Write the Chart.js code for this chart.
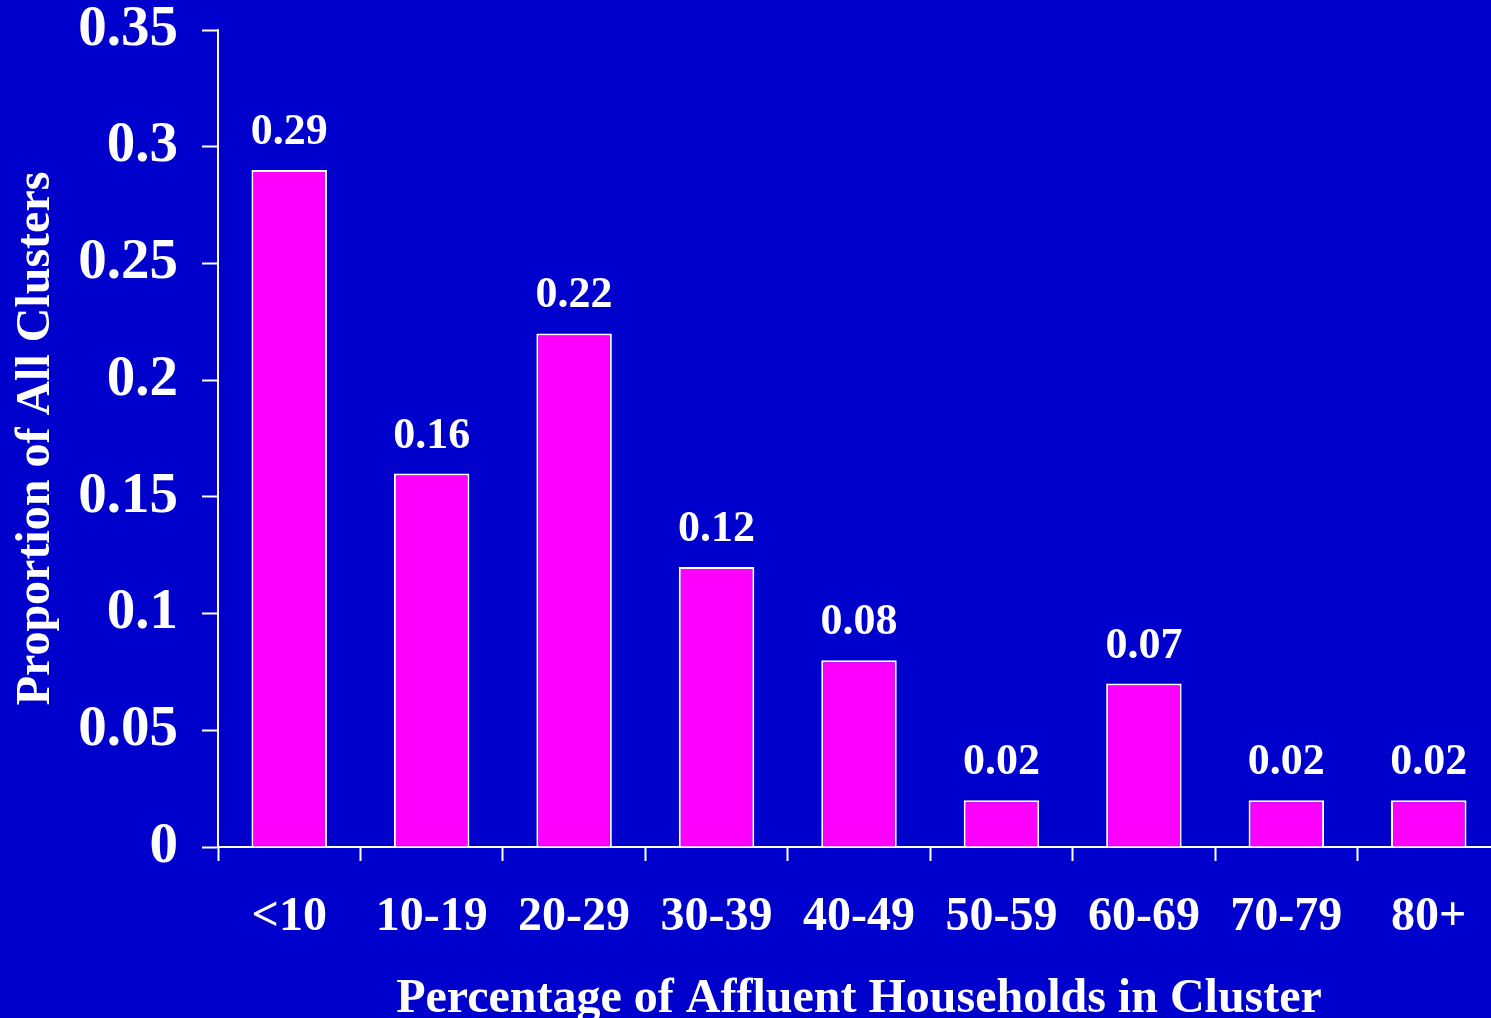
<!DOCTYPE html>
<html>
<head>
<meta charset="utf-8">
<script src="https://cdn.jsdelivr.net/npm/chart.js@4/dist/chart.umd.min.js"></script>
<style>
  html, body { margin: 0; padding: 0; background: #0000CC; overflow: hidden; }
  #wrap { width: 1500px; height: 1018px; position: relative; }
</style>
</head>
<body>
<div id="wrap"><canvas id="bar-chart"></canvas></div>
<script>
// share of clusters by percentage of affluent households
var categories = ["<10", "10-19", "20-29", "30-39", "40-49", "50-59", "60-69", "70-79", "80+"];
var proportions = [0.29, 0.16, 0.22, 0.12, 0.08, 0.02, 0.07, 0.02, 0.02];
var yTickLabels = ["0", "0.05", "0.1", "0.15", "0.2", "0.25", "0.3", "0.35"];

var serif = '"Liberation Serif", "Times New Roman", serif';

// writes each bar's value just above it
var valueLabels = {
  id: 'valueLabels',
  afterDatasetsDraw: function(chart) {
    var ctx = chart.ctx;
    var meta = chart.getDatasetMeta(0);
    ctx.save();
    ctx.fillStyle = '#ffffff';
    ctx.font = 'bold 44px ' + serif;
    ctx.textAlign = 'center';
    ctx.textBaseline = 'alphabetic';
    meta.data.forEach(function(bar, i) {
      ctx.fillText(proportions[i].toFixed(2), bar.x, bar.y - 26);
    });
    ctx.restore();
  }
};

new Chart(document.getElementById("bar-chart"), {
  type: 'bar',
  data: {
    labels: categories,
    datasets: [{
      data: proportions,
      backgroundColor: '#FF00FF',
      borderColor: '#ffffff',
      borderWidth: 2,
      borderSkipped: 'bottom',
      categoryPercentage: 1,
      barPercentage: 0.53
    }]
  },
  options: {
    responsive: true,
    maintainAspectRatio: false,
    animation: false,
    layout: { padding: { top: 30, right: 0, left: 0, bottom: 0 } },
    plugins: {
      legend: { display: false },
      tooltip: { enabled: false }
    },
    scales: {
      x: {
        grid: {
          offset: true,
          drawOnChartArea: false,
          drawTicks: true,
          tickLength: 14,
          tickWidth: 2,
          tickColor: '#ffffff',
          color: '#ffffff'
        },
        border: { display: true, color: '#ffffff', width: 2 },
        ticks: {
          color: '#ffffff',
          font: { family: serif, size: 48, weight: 'bold' },
          padding: 28,
          maxRotation: 0,
          autoSkip: false
        },
        title: {
          display: true,
          text: 'Percentage of Affluent Households in Cluster',
          color: '#ffffff',
          font: { family: serif, size: 48, weight: 'bold' },
          padding: { top: 16, bottom: -10 }
        },
        afterFit: function(scale) {
          scale.height = 171;
          scale.paddingLeft = 0;
          scale.paddingRight = 0;
        }
      },
      y: {
        min: 0,
        max: 0.35,
        grid: {
          drawOnChartArea: false,
          drawTicks: true,
          tickLength: 16,
          tickWidth: 2,
          tickColor: '#ffffff',
          color: '#ffffff'
        },
        border: { display: true, color: '#ffffff', width: 2 },
        ticks: {
          stepSize: 0.05,
          color: '#ffffff',
          font: { family: serif, size: 57, weight: 'bold' },
          padding: 24,
          callback: function(value, index) { return yTickLabels[index]; }
        },
        title: {
          display: true,
          text: 'Proportion of All Clusters',
          color: '#ffffff',
          font: { family: serif, size: 48, weight: 'bold' },
          padding: { top: 8, bottom: 0 }
        },
        afterFit: function(scale) {
          scale.width = 218;
          scale.paddingTop = 0;
          scale.paddingBottom = 0;
        }
      }
    }
  },
  plugins: [valueLabels]
});
</script>
</body>
</html>
